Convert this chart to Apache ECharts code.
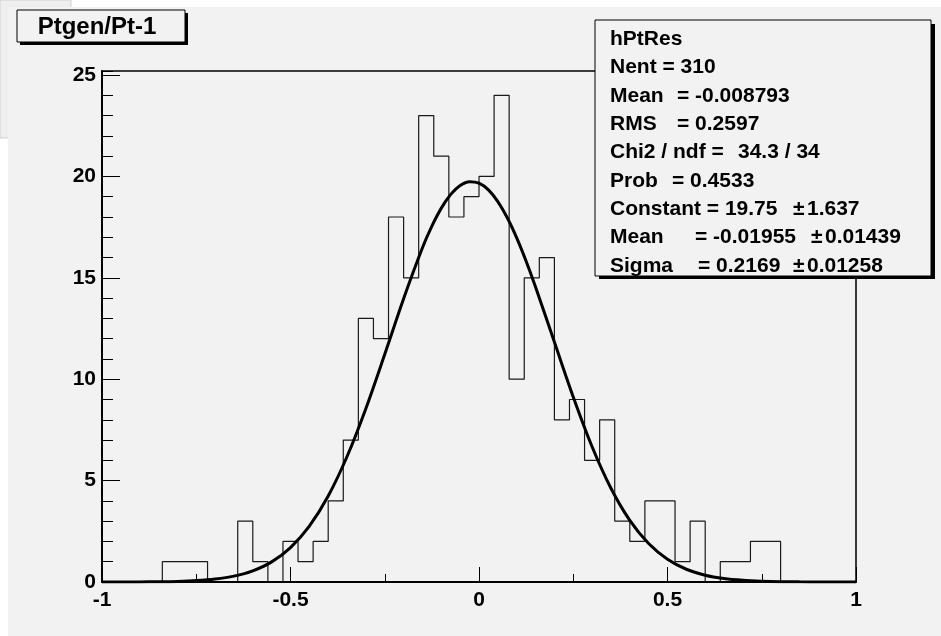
<!DOCTYPE html>
<html><head><meta charset="utf-8">
<script src="https://cdn.jsdelivr.net/npm/echarts@6/dist/echarts.min.js"></script>
<style>html,body{margin:0;padding:0;background:#fff}#c{width:941px;height:636px}</style>
</head><body><div id="c"></div>
<script>
// ---- data ----
const xMin = -1, xMax = 1, binWidth = 0.04;
const counts = [0,0,0,0,1,1,1,0,0,3,1,0,2,1,2,4,7,13,12,18,15,23,21,18,19,20,24,10,15,16,8,9,6,8,3,2,4,4,1,3,0,1,1,2,2,0,0,0,0,0];
const fitX = [-1,-0.95,-0.9,-0.85,-0.8,-0.75,-0.7,-0.65,-0.6,-0.55,-0.5,-0.45,-0.4,-0.35,-0.3,-0.25,-0.2,-0.15,-0.125,-0.1,-0.075,-0.05,-0.025,0,0.025,0.05,0.075,0.1,0.125,0.15,0.2,0.25,0.3,0.35,0.4,0.45,0.5,0.55,0.6,0.65,0.7,0.75,0.8,0.85,0.9,0.95,1];
const fitY = [0.0007,0.002,0.0052,0.013,0.0305,0.068,0.144,0.289,0.550,0.992,1.699,2.756,4.241,6.188,8.561,11.231,13.972,16.482,17.549,18.437,19.115,19.556,19.744,19.670,19.338,18.760,17.960,16.967,15.817,14.550,11.832,9.125,6.672,4.626,3.041,1.896,1.121,0.629,0.334,0.168,0.0805,0.0365,0.0157,0.0064,0.0025,0.0009,0.0003];
const yMax = 25.2;
const titleText = 'Ptgen/Pt-1';
const statsLines = [
  [['hPtRes', 610]],
  [['Nent = 310', 610]],
  [['Mean', 610], ['= -0.008793', 677]],
  [['RMS', 610], ['= 0.2597', 677]],
  [['Chi2 / ndf =', 610], ['34.3 / 34', 738]],
  [['Prob', 610], ['= 0.4533', 672]],
  [['Constant = 19.75', 610], ['\u00b1', 793], ['1.637', 807]],
  [['Mean', 610], ['= -0.01955', 695], ['\u00b1', 811], ['0.01439', 825]],
  [['Sigma', 610], ['= 0.2169', 698], ['\u00b1', 793], ['0.01258', 807]]
];

const FONT = '"Liberation Sans", Arial, Helvetica, sans-serif';
const histData = counts.map((c, i) => [xMin + i * binWidth, c]);
histData.push([xMin + counts.length * binWidth, counts[counts.length - 1]]);
const fitData = fitX.map((x, i) => [x, fitY[i]]);

const graphics = [
  {type:'rect', z:-10, shape:{x:0,y:0,width:71,height:138}, style:{fill:'#eeeeee', stroke:'#d0d0d0', lineWidth:1}},
  {type:'rect', z:-9, shape:{x:8,y:7,width:933,height:629}, style:{fill:'#f2f2f2'}},
  // title box
  {type:'rect', z:100, shape:{x:20,y:13,width:168,height:32}, style:{fill:'#000'}},
  {type:'rect', z:101, shape:{x:17,y:10,width:168,height:32}, style:{fill:'#f2f2f2', stroke:'#000', lineWidth:1}},
  {type:'text', z:102, x:97, y:27.5, style:{text:titleText, font:'bold 24px ' + FONT, fill:'#000', align:'center', verticalAlign:'middle'}},
  // stats box
  {type:'rect', z:100, shape:{x:599,y:24,width:336,height:255}, style:{fill:'#000'}},
  {type:'rect', z:101, shape:{x:595,y:20,width:336,height:256}, style:{fill:'#f2f2f2', stroke:'#000', lineWidth:1}}
];
statsLines.forEach((parts, i) => {
  const mid = 39.3 + i * 28.33;
  parts.forEach(p => {
    graphics.push({type:'text', z:102, x:p[1], y:mid, style:{text:p[0], font:'bold 21px ' + FONT, fill:'#000', align:'left', verticalAlign:'middle'}});
  });
});

const chart = echarts.init(document.getElementById('c'), null, {renderer:'canvas'});
chart.setOption({
  backgroundColor:'#ffffff',
  animation:false,
  grid:{left:102, right:85, top:71, bottom:54, show:true, backgroundColor:'#f2f2f2', borderColor:'#000', borderWidth:1.5, z:0},
  xAxis:{type:'value', min:xMin, max:xMax, interval:0.5, z:5,
    axisLine:{show:true, onZero:false, lineStyle:{color:'#000', width:2}},
    axisTick:{show:true, inside:true, length:15, lineStyle:{color:'#000', width:1}},
    minorTick:{show:true, splitNumber:2, length:8, lineStyle:{color:'#000', width:1}},
    splitLine:{show:false},
    axisLabel:{color:'#000', fontFamily:FONT, fontWeight:'bold', fontSize:21, margin:8}
  },
  yAxis:[
    {type:'value', position:'left', min:0, max:yMax, interval:5, z:5,
      axisLine:{show:true, onZero:false, lineStyle:{color:'#000', width:2}},
      axisTick:{show:true, inside:true, length:18, lineStyle:{color:'#000', width:1}},
      splitLine:{show:false},
      axisLabel:{color:'#000', fontFamily:FONT, fontWeight:'bold', fontSize:21, margin:6, showMaxLabel:false,
        formatter:v => (Math.abs(v % 5) < 1e-9 ? String(v) : '')}
    },
    {type:'value', position:'left', min:0, max:yMax, interval:1, z:5,
      axisLine:{show:false, onZero:false},
      axisTick:{show:true, inside:true, length:11, lineStyle:{color:'#000', width:1}},
      splitLine:{show:false}, axisLabel:{show:false}
    }
  ],
  series:[
    {type:'line', name:'hPtRes', data:histData, step:'end', symbol:'none', yAxisIndex:0,
      lineStyle:{color:'#1a1a1a', width:1.2}, z:3},
    {type:'line', name:'gaus', data:fitData, smooth:0.3, symbol:'none', yAxisIndex:0,
      lineStyle:{color:'#000', width:3}, z:4}
  ],
  graphic:graphics
});
</script></body></html>
